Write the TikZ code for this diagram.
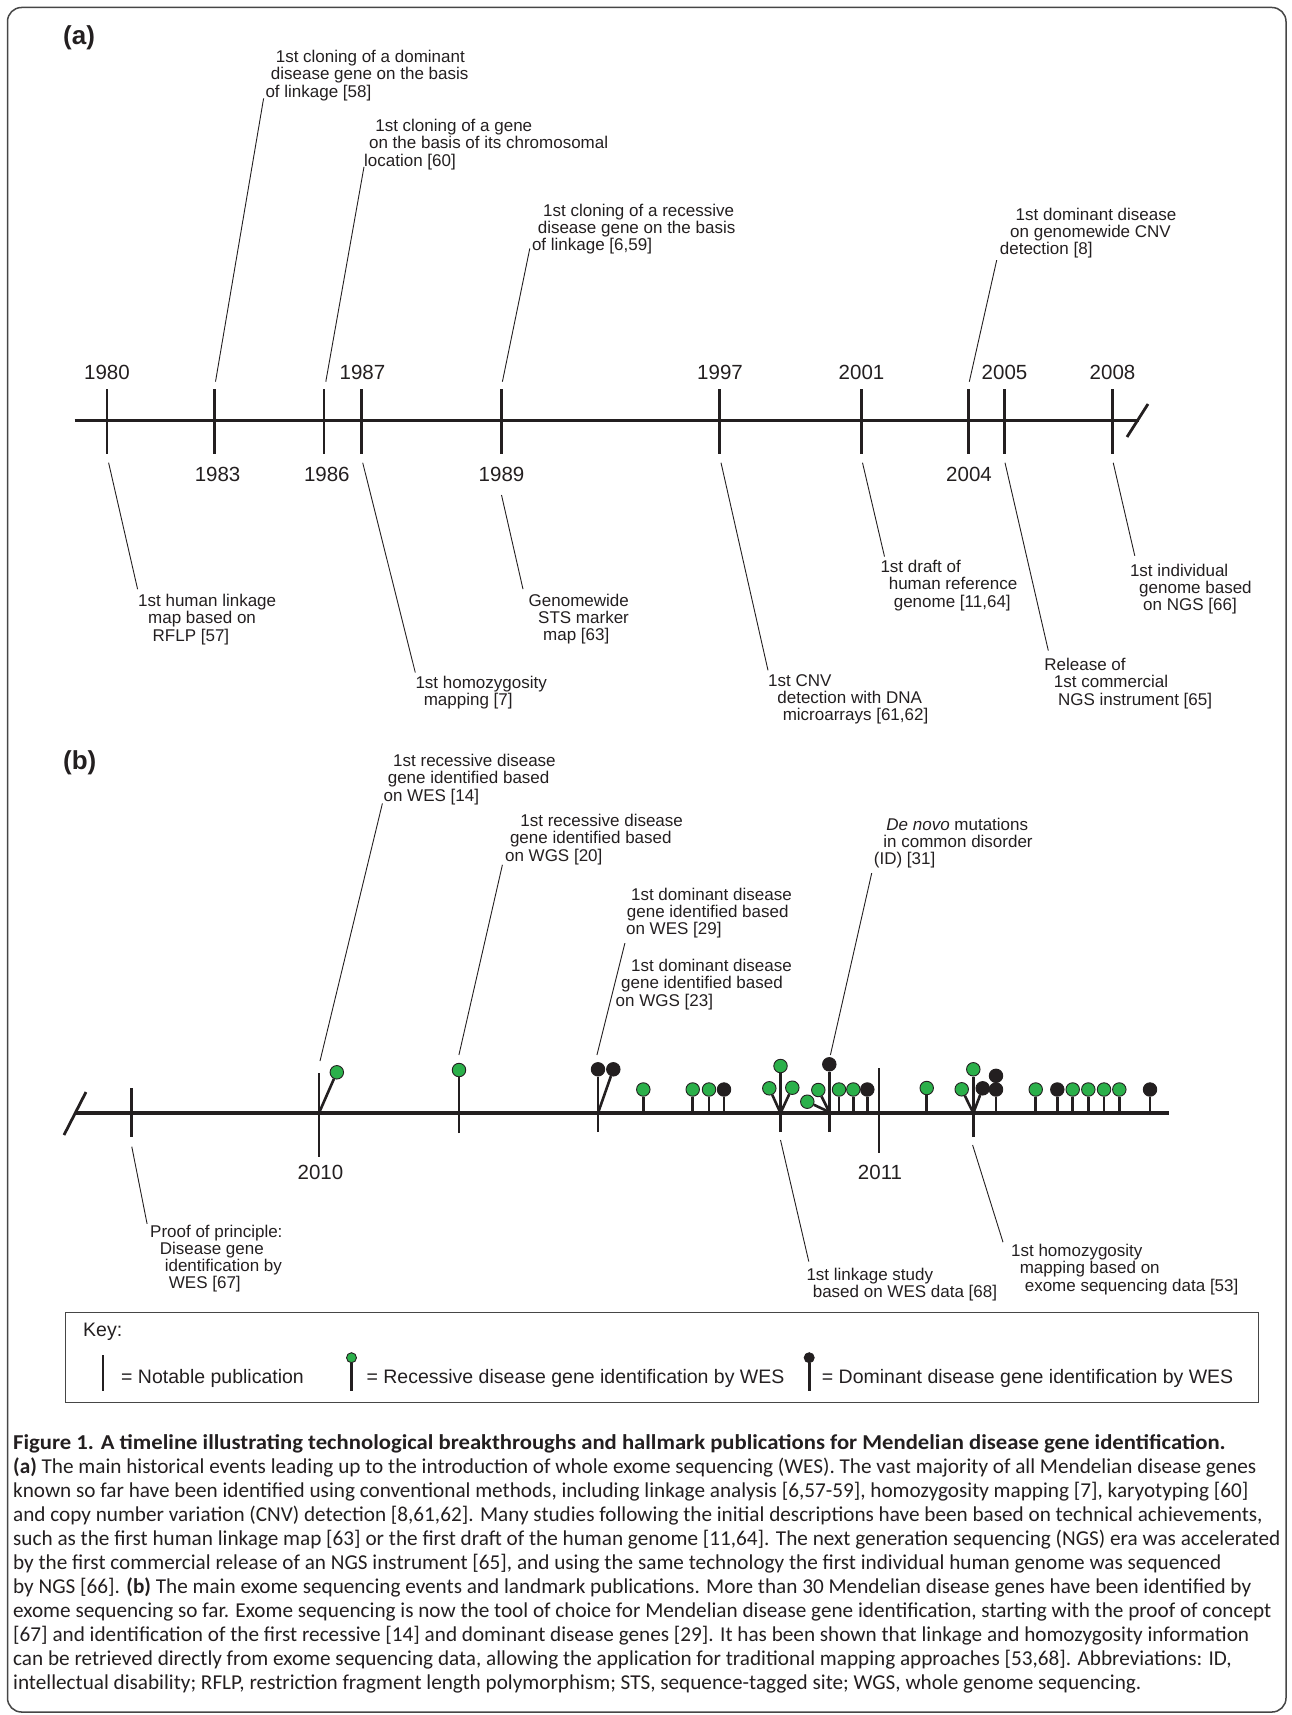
\documentclass[tikz,border=0pt]{standalone}
\usepackage{fontspec}
\setmainfont{Liberation Sans}
\newfontfamily\capfont{Carlito}
\newfontfamily\captitlefont{Carlito}[FakeStretch=1.07]
\usepackage{tikz}
\usetikzlibrary{positioning}
\definecolor{inkc}{RGB}{35,31,32}
\definecolor{recgreen}{RGB}{43,176,74}
\definecolor{framec}{RGB}{70,70,70}
\tikzset{
  axisline/.style={draw=inkc, line width=3.2pt},
  tickline/.style={draw=inkc, line width=2.8pt},
  stemline/.style={draw=inkc, line width=2.6pt},
  leader/.style={draw=inkc, line width=0.9pt},
  yearlbl/.style={font=\fontsize{20.5}{22}\selectfont, text=inkc, inner sep=0pt, anchor=base},
  evlbl/.style={font=\fontsize{17}{17.2}\selectfont, text=inkc, align=left, inner sep=0pt, anchor=base west},
  keytxt/.style={font=\fontsize{19.5}{21}\selectfont, text=inkc, inner sep=0pt, anchor=base west},
  panel/.style={font=\fontsize{26}{28}\selectfont\bfseries, text=inkc, inner sep=0pt, anchor=base west},
  recdot/.style={circle, draw=inkc, line width=0.9pt, fill=recgreen, minimum size=13.5pt, inner sep=0pt},
  domdot/.style={recdot, fill=inkc},
}
\begin{document}
\begin{tikzpicture}[x=1pt,y=-1pt]
  \useasboundingbox (0,0) rectangle (1292,1715);
  \draw[framec, line width=1.5pt, rounded corners=14pt] (7.5,7.5) rectangle (1286,1712);

  % (a) history
  \node[panel] (pa) at (63,45) {(a)};
  \coordinate (axa0) at (74.6,420.7);
  \coordinate (axa1) at (1139,420.7);
  \draw[axisline] (axa0) -- (axa1);
  \draw[tickline] (1127,437) -- (1148,404);
  \foreach \x in {107,214.7,324,361.5,501.5,719.8,861.2,968.5,1004.2,1112.3}
    \draw[tickline] (\x,389) -- (\x,454);
  \foreach \yr/\x in {1980/107,1987/362.5,1997/720,2001/861.5,2005/1004.5,2008/1112.5}
    \node[yearlbl] (y\yr) at (\x,379) {\yr};
  \foreach \yr/\x in {1983/217.6,1986/326.8,1989/501.5,2004/969}
    \node[yearlbl] (y\yr) at (\x,481) {\yr};

  \node[evlbl] (l83) at (265.3,97.1) {\hspace*{10.3pt}1st cloning of a dominant\\\hspace*{5.4pt}disease gene on the basis\\of linkage [58]};
  \node[evlbl] (l86) at (364,166.1) {\hspace*{11.1pt}1st cloning of a gene\\\hspace*{4.9pt}on the basis of its chromosomal\\location [60]};
  \node[evlbl] (l89) at (531.8,250.4) {\hspace*{11.2pt}1st cloning of a recessive\\\hspace*{5.8pt}disease gene on the basis\\of linkage [6,59]};
  \node[evlbl] (l04) at (999.7,254.4) {\hspace*{15.8pt}1st dominant disease\\\hspace*{10.3pt}on genomewide CNV\\detection [8]};
  \node[evlbl] (l80) at (138,641.1) {1st human linkage\\\hspace*{10pt}map based on\\\hspace*{14.5pt}RFLP [57]};
  \node[evlbl] (l87) at (415.3,705.5) {1st homozygosity\\\hspace*{8.3pt}mapping [7]};
  \node[evlbl] (l89b) at (528.5,640.4) {Genomewide\\\hspace*{9.5pt}STS marker\\\hspace*{14.5pt}map [63]};
  \node[evlbl] (l97) at (768,720.4) {1st CNV\\\hspace*{9.2pt}detection with DNA\\\hspace*{14.6pt}microarrays [61,62]};
  \node[evlbl] (l01) at (880.3,607.1) {1st draft of\\\hspace*{8.3pt}human reference\\\hspace*{13.3pt}genome [11,64]};
  \node[evlbl] (l05) at (1044.2,705.1) {Release of\\\hspace*{9.5pt}1st commercial\\\hspace*{13.7pt}NGS instrument [65]};
  \node[evlbl] (l08) at (1129.8,610.4) {1st individual\\\hspace*{9.2pt}genome based\\\hspace*{13.2pt}on NGS [66]};

  \coordinate (c83) at (215.5,381.7);
  \coordinate (c86) at (325.8,381.7);
  \coordinate (c89) at (502.4,381.7);
  \coordinate (c04) at (969.3,381.7);
  \coordinate (c80) at (108.6,462.7);
  \coordinate (c87) at (362.7,462.7);
  \coordinate (c89b) at (501.5,495);
  \coordinate (c97) at (721,462.7);
  \coordinate (c01) at (862.5,462.7);
  \coordinate (c05) at (1005,462.7);
  \coordinate (c08) at (1113.2,462.7);
  \draw[leader] (c83) -- ([shift={(-1.7,-2.4)}]l83.south west);
  \draw[leader] (c86) -- ([shift={(0,-3)}]l86.south west);
  \draw[leader] (c89) -- ([shift={(-2,-5.7)}]l89.south west);
  \draw[leader] (c04) -- ([shift={(-3,2)}]l04.south west);
  \draw[leader] (c80) -- ([shift={(-0.4,-5)}]l80.north west);
  \draw[leader] (c87) -- ([shift={(0,-3.2)}]l87.north west);
  \draw[leader] (c89b) -- ([shift={(-5.5,-4.3)}]l89b.north west);
  \draw[leader] (c97) -- ([shift={(0,-3.6)}]l97.north west);
  \draw[leader] (c01) -- ([shift={(4.2,-3.6)}]l01.north west);
  \draw[leader] (c05) -- ([shift={(4.1,-7.6)}]l05.north west);
  \draw[leader] (c08) -- ([shift={(5,-7.6)}]l08.north west);

  % (b) exome sequencing
  \node[panel] (pb) at (63,769.5) {(b)};
  \coordinate (axb0) at (75.8,1113);
  \coordinate (axb1) at (1169.3,1113);
  \draw[axisline] (axb0) -- (axb1);
  \draw[tickline] (64,1135) -- (86,1092);
  \draw[tickline] (131.4,1088) -- (131.4,1137);
  \draw[tickline] (319,1073) -- (319,1157);
  \draw[tickline] (879,1068) -- (879,1153);
  \node[yearlbl] (y2010) at (320.4,1179.3) {2010};
  \node[yearlbl] (y2011) at (880,1179.3) {2011};

  \foreach \x/\y/\s [count=\i] in {643.3/1089.5/recdot,692.7/1089.5/recdot,709/1089.5/recdot,724/1089.5/domdot,
      839/1089.5/recdot,853.3/1089.5/recdot,867.3/1089.5/domdot,926.7/1088/recdot,996/1089.5/domdot,
      1035.7/1089.5/recdot,1057.3/1089.5/domdot,1072.7/1089.5/recdot,1088.3/1089.5/recdot,
      1104/1089.5/recdot,1119.3/1089.5/recdot,1150/1089.5/domdot} {
    \coordinate (foot\i) at (\x,1113);
    \node[\s] (pop\i) at (\x,\y) {};
    \draw[stemline] (foot\i) -- (pop\i);
  }
  \node[domdot] (pop9top) at (996,1075.8) {};

  \coordinate (f2010) at (319,1113);
  \node[recdot] (w14) at (336.8,1072.3) {};
  \draw[stemline] (f2010) -- (w14);

  \coordinate (n20) at (459,1133);
  \node[recdot] (g20) at (459,1070) {};
  \draw[tickline] (n20) -- (g20);

  \coordinate (n29) at (598,1132);
  \coordinate (f29) at (598,1113);
  \node[domdot] (w29) at (598,1069.3) {};
  \node[domdot] (g23) at (613.3,1069.3) {};
  \draw[tickline] (n29) -- (w29);
  \draw[stemline] (f29) -- (g23);

  \coordinate (nlk) at (780.5,1132);
  \coordinate (flk) at (780.5,1113);
  \node[recdot] (lk) at (780.5,1066) {};
  \node[recdot] (lkl) at (769.3,1088.3) {};
  \node[recdot] (lkr) at (792.3,1087.7) {};
  \draw[tickline] (nlk) -- (lk);
  \draw[stemline] (flk) -- (lkl);
  \draw[stemline] (flk) -- (lkr);

  \coordinate (ndn) at (829.3,1132);
  \coordinate (fdn) at (829.3,1112);
  \node[domdot] (dn) at (829.3,1064.3) {};
  \node[recdot] (dnl) at (818.3,1090) {};
  \node[recdot] (dnll) at (807.3,1101.7) {};
  \draw[tickline] (ndn) -- (dn);
  \draw[stemline] (fdn) -- (dnl);
  \draw[stemline] (fdn) -- (dnll);

  \coordinate (nhz) at (973.3,1137);
  \coordinate (fhz) at (973.3,1113);
  \node[recdot] (hz) at (973.3,1069.3) {};
  \node[recdot] (hzl) at (961.7,1089.3) {};
  \node[domdot] (hzr) at (982.7,1088.3) {};
  \draw[tickline] (nhz) -- (hz);
  \draw[stemline] (fhz) -- (hzl);
  \draw[stemline] (fhz) -- (hzr);

  \node[evlbl] (lw14) at (383.4,801.1) {\hspace*{9.6pt}1st recessive disease\\\hspace*{4.2pt}gene identified based\\on WES [14]};
  \node[evlbl] (lg20) at (504.9,861.1) {\hspace*{15.3pt}1st recessive disease\\\hspace*{4.9pt}gene identified based\\on WGS [20]};
  \node[evlbl] (lw29) at (625.9,934.4) {\hspace*{5pt}1st dominant disease\\\hspace*{0.8pt}gene identified based\\on WES [29]};
  \node[evlbl] (lg23) at (615.5,1006.1) {\hspace*{15.5pt}1st dominant disease\\\hspace*{5.5pt}gene identified based\\on WGS [23]};
  \node[evlbl] (ldn) at (873.7,864.4) {\hspace*{12.5pt}\textit{De novo} mutations\\\hspace*{9.5pt}in common disorder\\(ID) [31]};
  \node[evlbl] (lpp) at (150,1288.9) {Proof of principle:\\\hspace*{9.6pt}Disease gene\\\hspace*{14.6pt}identification by\\\hspace*{18.7pt}WES [67]};
  \node[evlbl] (llk) at (806.3,1297.2) {1st linkage study\\\hspace*{6.3pt}based on WES data [68]};
  \node[evlbl] (lhz) at (1010.9,1291.1) {1st homozygosity\\\hspace*{8.7pt}mapping based on\\\hspace*{13.7pt}exome sequencing data [53]};

  \coordinate (cw14) at (320,1061);
  \coordinate (cg20) at (458.9,1055);
  \coordinate (cw29) at (596.9,1055);
  \coordinate (cdn) at (830.4,1055);
  \coordinate (cpp) at (131.8,1146.7);
  \coordinate (clk) at (780.5,1140);
  \coordinate (chz) at (972.6,1145);
  \draw[leader] (cw14) -- ([shift={(-1,-1.4)}]lw14.south west);
  \draw[leader] (cg20) -- ([shift={(-2.5,0)}]lg20.south west);
  \draw[leader] (cw29) -- ([shift={(-1,5)}]lw29.south west);
  \draw[leader] (cdn) -- ([shift={(-2,5)}]ldn.south west);
  \draw[leader] (cpp) -- ([shift={(-2.9,-0.9)}]lpp.north west);
  \draw[leader] (clk) -- ([shift={(2.5,-5.9)}]llk.north west);
  \draw[leader] (chz) -- ([shift={(-7.9,-2)}]lhz.north west);

  % key
  \draw[framec, line width=1.3pt] (65.5,1312.7) rectangle (1258.7,1402.7);
  \node[keytxt] (keyttl) at (83,1336) {Key:};
  \coordinate (kn0) at (102.8,1355);
  \coordinate (kn1) at (102.8,1390.7);
  \draw[stemline] (kn0) -- (kn1);
  \node[keytxt] (keynot) at (121,1383.3) {= Notable publication};
  \coordinate (kr1) at (351.5,1390.7);
  \node[recdot, minimum size=10pt] (keyrec) at (351.5,1357.7) {};
  \draw[stemline] (kr1) -- (keyrec);
  \node[keytxt] (keyrect) at (366.4,1383.3) {= Recessive disease gene identification by WES};
  \coordinate (kd1) at (809.2,1390.7);
  \node[domdot, minimum size=10pt] (keydom) at (809.2,1357.7) {};
  \draw[stemline] (kd1) -- (keydom);
  \node[keytxt] (keydomt) at (821.7,1383.3) {= Dominant disease gene identification by WES};

  % caption
  \node[anchor=base west, inner sep=0pt, text=inkc, font=\captitlefont\bfseries\fontsize{21.2}{24.1}\selectfont] (captitle) at (13,1449)
    {Figure 1. A timeline illustrating technological breakthroughs and hallmark publications for Mendelian disease gene identification.};
  \node[anchor=base west, inner sep=0pt, text=inkc, align=left, font=\capfont\fontsize{21.2}{24.1}\selectfont] (capbody) at (13,1689.9)
    {\textbf{(a)} The main historical events leading up to the introduction of whole exome sequencing (WES). The vast majority of all Mendelian disease genes\\
     known so far have been identified using conventional methods, including linkage analysis [6,57-59], homozygosity mapping [7], karyotyping [60]\\
     and copy number variation (CNV) detection [8,61,62]. Many studies following the initial descriptions have been based on technical achievements,\\
     such as the first human linkage map [63] or the first draft of the human genome [11,64]. The next generation sequencing (NGS) era was accelerated\\
     by the first commercial release of an NGS instrument [65], and using the same technology the first individual human genome was sequenced\\
     by NGS [66]. \textbf{(b)} The main exome sequencing events and landmark publications. More than 30 Mendelian disease genes have been identified by\\
     exome sequencing so far. Exome sequencing is now the tool of choice for Mendelian disease gene identification, starting with the proof of concept\\
     {}[67] and identification of the first recessive [14] and dominant disease genes [29]. It has been shown that linkage and homozygosity information\\
     can be retrieved directly from exome sequencing data, allowing the application for traditional mapping approaches [53,68]. Abbreviations: ID,\\
     intellectual disability; RFLP, restriction fragment length polymorphism; STS, sequence-tagged site; WGS, whole genome sequencing.};
\end{tikzpicture}
\end{document}
